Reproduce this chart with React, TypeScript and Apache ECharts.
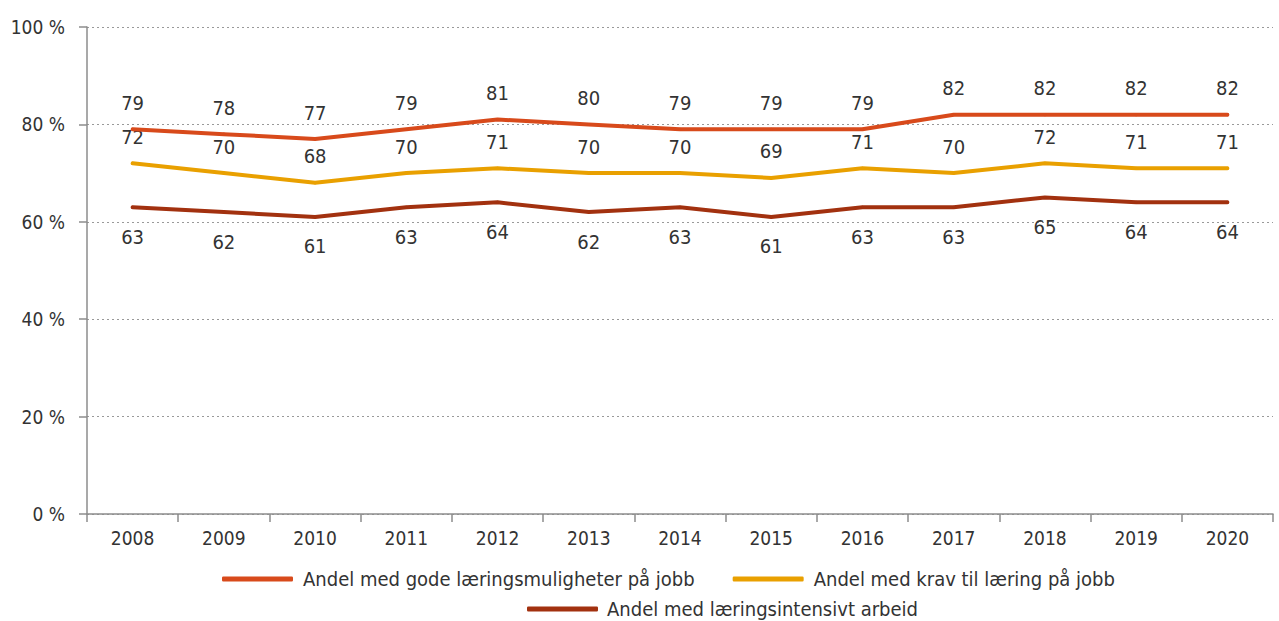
import React, { useEffect, useRef } from "react";
import * as echarts from "echarts";

const years = ["2008", "2009", "2010", "2011", "2012", "2013", "2014", "2015", "2016", "2017", "2018", "2019", "2020"];
const gode = [79, 78, 77, 79, 81, 80, 79, 79, 79, 82, 82, 82, 82];
const krav = [72, 70, 68, 70, 71, 70, 70, 69, 71, 70, 72, 71, 71];
const intensivt = [63, 62, 61, 63, 64, 62, 63, 61, 63, 63, 65, 64, 64];

const names = [
  "Andel med gode læringsmuligheter på jobb",
  "Andel med krav til læring på jobb",
  "Andel med læringsintensivt arbeid",
];
const colors = ["#d84a1b", "#e9a000", "#a2310f"];

const FONT = "'Liberation Sans Narrow', 'DejaVu Sans Condensed', 'Open Sans', sans-serif";

export default function App() {
  const ref = useRef<HTMLDivElement>(null);
  useEffect(() => {
    if (!ref.current) return;
    document.body.style.margin = "0";
    const chart = echarts.init(ref.current, undefined, { renderer: "svg" });
    const mk = (i: number, data: number[], pos: "top" | "bottom", dist: number) => ({
      name: names[i],
      type: "line",
      data,
      showSymbol: true,
      symbol: "circle",
      symbolSize: 3,
      lineStyle: { color: colors[i], width: 4, cap: "round", join: "round" },
      itemStyle: { color: colors[i], borderWidth: 0 },
      label: {
        show: true,
        position: pos,
        distance: dist,
        color: "#333",
        fontSize: 20,
        fontFamily: FONT,
      },
      emphasis: { disabled: true },
      z: 3 - i,
    });
    chart.setOption({
      animation: false,
      textStyle: { fontFamily: FONT },
      grid: { left: 87, right: 6, top: 27, bottom: 107, containLabel: false },
      legend: [
        {
          data: [names[0], names[1]],
          left: 217,
          top: 564,
          itemWidth: 71,
          itemHeight: 5,
          itemGap: 38,
          icon: "roundRect",
          textStyle: { fontSize: 20, color: "#333", fontFamily: FONT, padding: [0, 0, 0, 5] },
        },
        {
          data: [names[2]],
          left: 522,
          top: 594,
          itemWidth: 71,
          itemHeight: 5,
          icon: "roundRect",
          textStyle: { fontSize: 20, color: "#333", fontFamily: FONT, padding: [0, 0, 0, 4] },
        },
      ],
      xAxis: {
        type: "category",
        data: years,
        boundaryGap: true,
        axisLine: { lineStyle: { color: "#8c8c8c", width: 1.5 } },
        axisTick: { show: true, length: 8, lineStyle: { color: "#8c8c8c", width: 1.5 } },
        axisLabel: { color: "#333", fontSize: 19, margin: 14, fontFamily: FONT },
      },
      yAxis: {
        type: "value",
        min: 0,
        max: 100,
        interval: 20,
        axisLine: { show: true, lineStyle: { color: "#8c8c8c", width: 1.5 } },
        axisTick: { show: true, length: 8, lineStyle: { color: "#8c8c8c", width: 1.5 } },
        axisLabel: { color: "#333", fontSize: 19, margin: 22, fontFamily: FONT, formatter: "{value} %" },
        splitLine: { lineStyle: { color: "#999", type: [2, 3], width: 1 } },
      },
      series: [mk(0, gode, "top", 15), mk(1, krav, "top", 15), mk(2, intensivt, "bottom", 18)],
    });
    return () => chart.dispose();
  }, []);
  return <div ref={ref} style={{ width: 1279, height: 621 }} />;
}
